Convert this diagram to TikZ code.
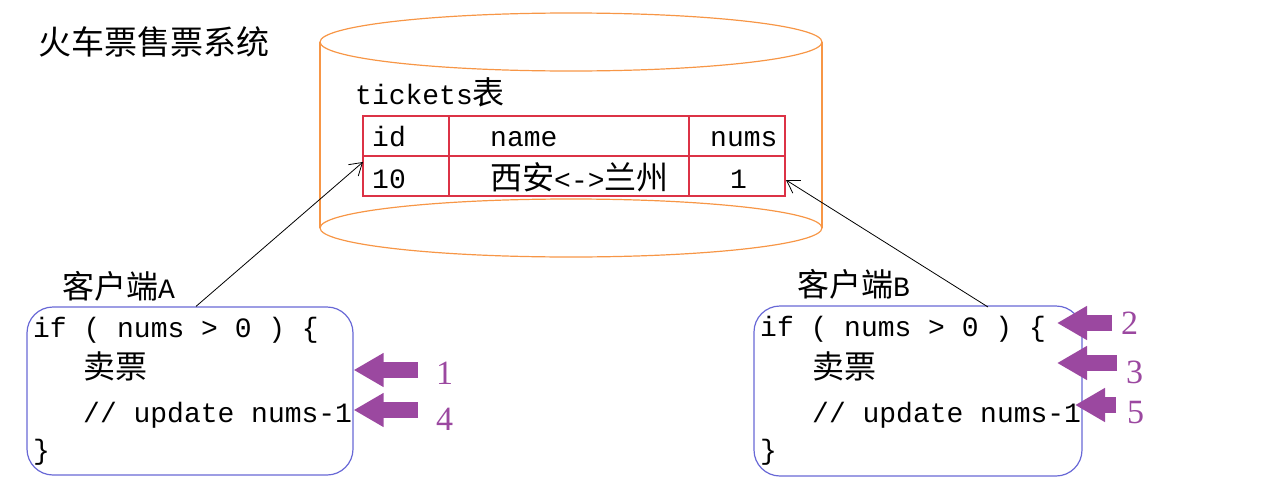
\documentclass[tikz,border=0pt]{standalone}
\usepackage{fontspec}
\setmainfont{Liberation Mono}
\newfontfamily\cjk{Noto Sans CJK SC}
\newfontfamily\numfont{Liberation Serif}
\usetikzlibrary{arrows.meta}
\definecolor{cylorange}{RGB}{247,150,70}
\definecolor{tblred}{RGB}{220,50,70}
\definecolor{boxblue}{RGB}{104,104,214}
\definecolor{mark}{RGB}{155,72,160}
\newcommand{\hz}[1]{{\cjk\fontsize{32}{34}\selectfont #1}}

\begin{document}
\begin{tikzpicture}[x=1pt,y=-1pt,
    txt/.style={anchor=base west,inner sep=0pt,font=\fontsize{28}{32}\selectfont},
    num/.style={anchor=base west,inner sep=0pt,text=mark,font=\numfont\fontsize{34}{36}\selectfont},
    client/.style={draw=boxblue,line width=1.2pt,rounded corners=26pt,inner sep=0pt},
    link/.style={line width=0.8pt,-{Straight Barb[length=12pt,width=15pt]}},
    hint/.style={line width=16pt,draw=mark,-{Triangle[length=30pt,width=32pt]}}]

    \useasboundingbox (0,0) rectangle (1280,498);

    % title
    \node[txt] (title) at (38,54) {{\cjk\fontsize{33}{35}\selectfont 火车票售票系统}};

    % database cylinder
    \draw[cylorange,line width=1.2pt] (320,42) -- (320,228) (822,42) -- (822,228);
    \draw[cylorange,line width=1.2pt] (571,42) ellipse [x radius=251,y radius=29];
    \draw[cylorange,line width=1.2pt] (571,228) ellipse [x radius=251,y radius=29];

    % tickets table
    \node[txt] (tname) at (355,104) {tickets\hz{表}};
    \node[draw=tblred,line width=1.2pt,minimum width=422pt,minimum height=80pt,inner sep=0pt] (tbl) at (574,156) {};
    \draw[tblred,line width=1.2pt] (tbl.west) -- (tbl.east)
        (449,116) -- (449,196) (689,116) -- (689,196);
    \node[txt] (hid) at (372,146) {id};
    \node[txt] (hname) at (490,146) {name};
    \node[txt] (hnums) at (710,146) {nums};
    \node[txt] (vid) at (372,188) {10};
    \node[txt] (vname) at (490,189) {\hz{西安}<->\hz{兰州}};
    \node[txt] (vnums) at (730,188) {1};

    % client A
    \node[txt] (la) at (62,298) {\hz{客户端}A};
    \node[client,minimum width=326pt,minimum height=168pt] (boxA) at (190,391) {};
    \node[txt] (a1) at (33,337) {if ( nums > 0 ) \{};
    \node[txt] (a2) at (83,378) {\hz{卖票}};
    \node[txt] (a3) at (83,422) {// update nums-1};
    \node[txt] (a4) at (33,459) {\}};

    % client B
    \node[txt] (lb) at (797,296) {\hz{客户端}B};
    \node[client,minimum width=328pt,minimum height=170pt] (boxB) at (918,391) {};
    \node[txt] (b1) at (760,336) {if ( nums > 0 ) \{};
    \node[txt] (b2) at (812,378) {\hz{卖票}};
    \node[txt] (b3) at (812,422) {// update nums-1};
    \node[txt] (b4) at (760,459) {\}};

    % reads of the row
    \coordinate (inA) at (363,162);
    \coordinate (outB) at (988,307);
    \coordinate (inB) at (786,180);
    \draw[link] (boxA.north) ++(6,0) -- (inA);
    \draw[link] (outB) -- (inB);

    % order of steps
    \coordinate (s1) at (418,370);
    \coordinate (s4) at (418,410);
    \draw[hint] (s1) -- (s1 -| boxA.east);
    \draw[hint] (s4) -- (s4 -| boxA.east);
    \node[num] (n1) at (436,384) {1};
    \node[num] (n4) at (436,430) {4};

    \coordinate (s2) at (1112,323);
    \coordinate (s3) at (1117,363);
    \coordinate (s5) at (1116,405);
    \draw[hint] (s2) -- (1057,323);
    \draw[hint] (s3) -- (1057,363);
    \draw[hint] (s5) -- (1075,405);
    \node[num] (n2) at (1121,334) {2};
    \node[num] (n3) at (1126,383) {3};
    \node[num] (n5) at (1127,423) {5};

\end{tikzpicture}
\end{document}
